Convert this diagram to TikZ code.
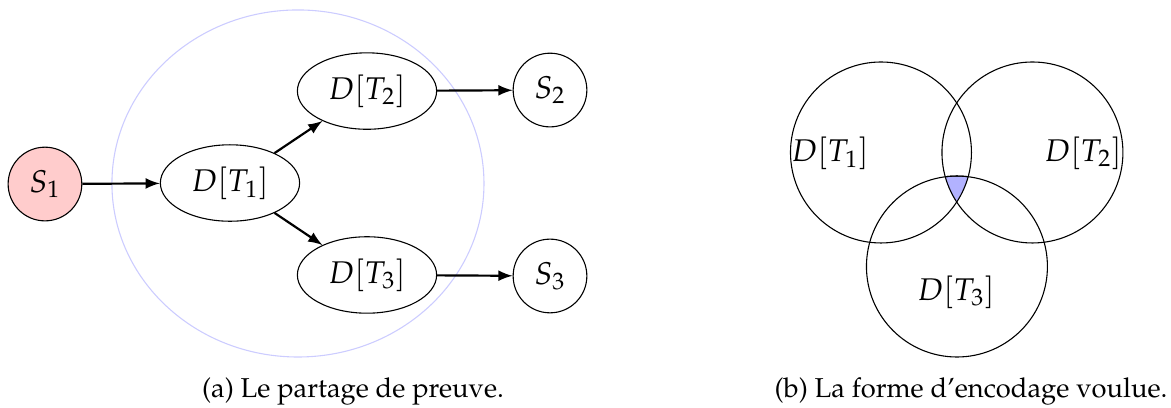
\documentclass[tikz,border=0pt]{standalone}
\usepackage[T1]{fontenc}
\usepackage{mathpazo}
\usepackage{tikz}
\usetikzlibrary{shapes.geometric}

\begin{document}
\begin{tikzpicture}[>=latex,
		every node/.style={font=\fontsize{11.5}{14}\selectfont},
		ens/.style={draw, ellipse, minimum width=51pt, minimum height=28pt, inner sep=0pt},
		sol/.style={draw, circle, minimum size=27pt, inner sep=0pt}]
	\useasboundingbox (0,0) rectangle (15.076,-5.240);

	% partage de preuve
	\draw[blue!20] (3.836,-2.362) ellipse (2.395 and 2.234);
	\node (s1) [sol, fill=red!20] at (0.579,-2.369) {$S_1$};
	\node (d1) [ens] at (2.961,-2.356) {$D[T_1]$};
	\node (d2) [ens] at (4.725,-1.172) {$D[T_2]$};
	\node (d3) [ens] at (4.725,-3.540) {$D[T_3]$};
	\node (s2) [sol] at (7.081,-1.159) {$S_2$};
	\node (s3) [sol] at (7.081,-3.553) {$S_3$};

	% Arrows
	\draw[->, thick] (s1) -- (d1);
	\draw[->, thick] (d1) -- (d2);
	\draw[->, thick] (d1) -- (d3);
	\draw[->, thick] (d2) -- (s2);
	\draw[->, thick] (d3) -- (s3);

	% encodage voulu
	\begin{scope}
		\clip (11.342,-1.963) circle (1.165);
		\clip (13.292,-1.963) circle (1.165);
		\filldraw[fill=blue!30] (12.320,-3.431) circle (1.165);
	\end{scope}
	\draw (11.342,-1.963) circle (1.165);
	\draw (13.292,-1.963) circle (1.165);
	\draw (12.320,-3.431) circle (1.165);
	\node (e1) at (10.685,-1.970) {$D[T_1]$};
	\node (e2) at (13.943,-1.970) {$D[T_2]$};
	\node (e3) at (12.308,-3.759) {$D[T_3]$};

	% legendes
	\node (capa) [anchor=base, font=\normalsize] at (4.544,-5.117) {(a) Le partage de preuve.};
	\node (capb) [anchor=base, font=\normalsize] at (12.501,-5.117) {(b) La forme d'encodage voulue.};
\end{tikzpicture}
\end{document}
